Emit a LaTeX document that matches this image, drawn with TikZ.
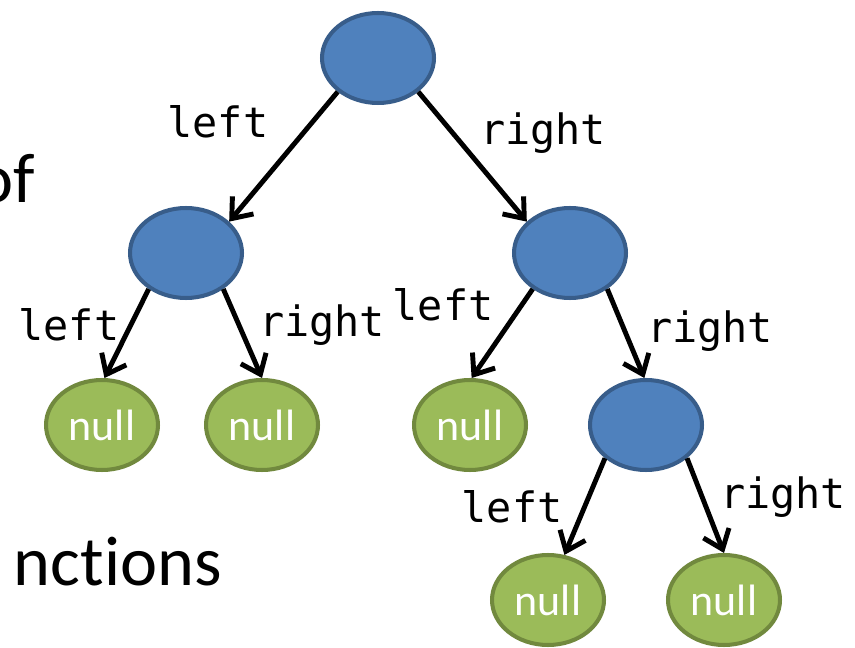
\documentclass[tikz,border=0pt]{standalone}
\usepackage{fontspec}
\setmainfont{Carlito}[RawFeature=-liga]
\newfontfamily\ptrfont{DejaVu Sans Mono}
\usetikzlibrary{arrows.meta, shapes.geometric}
\definecolor{cBlue}{RGB}{79,129,189}
\definecolor{cBlueDark}{RGB}{56,93,138}
\definecolor{cGreen}{RGB}{155,187,89}
\definecolor{cGreenDark}{RGB}{113,137,62}
\tikzset{
	treenode/.style={ellipse, draw=cBlueDark, fill=cBlue, line width=2.3pt, minimum width=2.24cm, minimum height=1.8cm},
	nullnode/.style={treenode, draw=cGreenDark, fill=cGreen, text=white, font=\fontsize{25}{30}\selectfont},
	ptr/.style={-{Straight Barb[length=3.5mm, width=5.5mm]}, line width=2.8pt},
	ptrlabel/.style={font=\ptrfont\fontsize{23.8}{28}\selectfont, inner sep=0pt},
	slidetext/.style={font=\fontsize{40}{48}\selectfont, inner sep=0pt},
}
\begin{document}
\begin{tikzpicture}[x=0.02cm, y=-0.02cm]
	\useasboundingbox (0,0) rectangle (855,648);
	% leftovers of the slide text
	\node[slidetext, anchor=base east] (txtof) at (35,203) {of};
	\node[slidetext, anchor=base east] (txtfn) at (222,585) {nctions};
	% tree
	\node[treenode] (root) at (378,58) {};
	\node[treenode] (lc) at (186,253) {};
	\node[treenode] (rc) at (570,253) {};
	\node[nullnode] (n1) at (102,425) {null};
	\node[nullnode] (n2) at (262,425) {null};
	\node[nullnode] (n3) at (470,425) {null};
	\node[treenode] (rr) at (646,425) {};
	\node[nullnode] (n4) at (548,600) {null};
	\node[nullnode] (n5) at (724,600) {null};
	\draw[ptr] (root.220) -- (lc.36);
	\draw[ptr] (root.320) -- (rc.144);
	\draw[ptr] (lc.224) -- (n1.87);
	\draw[ptr] (lc.316) -- (n2.90);
	\draw[ptr] (rc.224) -- (n3.88);
	\draw[ptr] (rc.316) -- (rr.92);
	\draw[ptr] (rr.219) -- (n4.70);
	\draw[ptr] (rr.321) -- (n5.90);
	% pointer names
	\node[ptrlabel] (l1) at (218,122) {left};
	\node[ptrlabel] (r1) at (543,133) {right};
	\node[ptrlabel] (l2) at (69,325) {left};
	\node[ptrlabel] (r2) at (322,325) {right};
	\node[ptrlabel] (l3) at (443,305) {left};
	\node[ptrlabel] (r3) at (710,331) {right};
	\node[ptrlabel] (l4) at (512,507) {left};
	\node[ptrlabel] (r4) at (783,497) {right};
\end{tikzpicture}
\end{document}
